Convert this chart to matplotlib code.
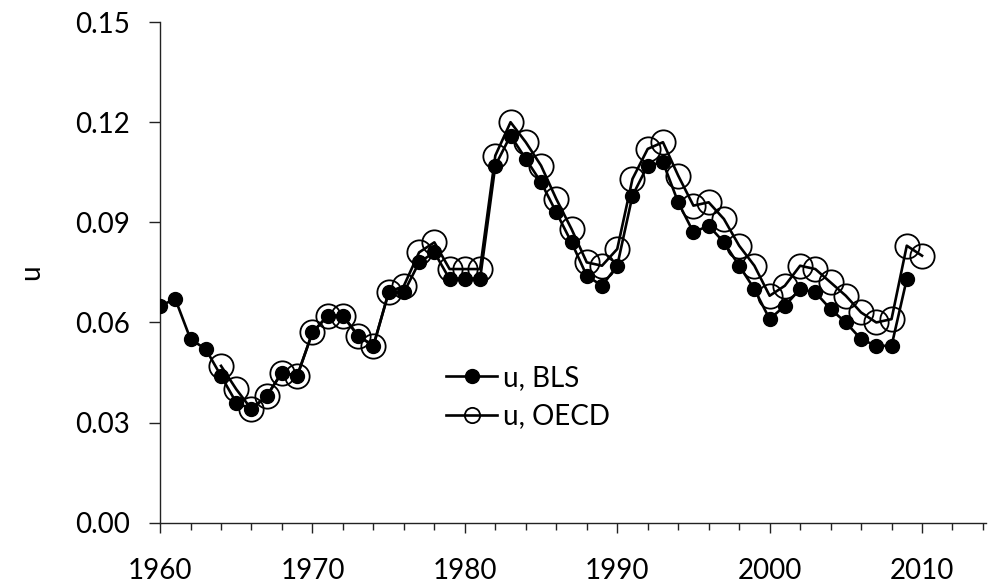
import matplotlib
matplotlib.use("Agg")
import matplotlib.pyplot as plt
from matplotlib.lines import Line2D
import numpy as np

plt.rcParams['font.family'] = ['Lato', 'DejaVu Sans']

# unemployment rate, BLS (1960-2009)
bls_years = list(range(1960, 2010))
bls_u = [0.065, 0.067, 0.055, 0.052, 0.044, 0.036, 0.034, 0.038, 0.045, 0.044,
         0.057, 0.062, 0.062, 0.056, 0.053, 0.069, 0.069, 0.078, 0.081, 0.073,
         0.073, 0.073, 0.107, 0.116, 0.109, 0.102, 0.093, 0.084, 0.074, 0.071,
         0.077, 0.098, 0.107, 0.108, 0.096, 0.087, 0.089, 0.084, 0.077, 0.070,
         0.061, 0.065, 0.070, 0.069, 0.064, 0.060, 0.055, 0.053, 0.053, 0.073]

# unemployment rate, OECD (1964-2010)
oecd_years = list(range(1964, 2011))
oecd_u = [0.047, 0.040, 0.034, 0.038, 0.045, 0.044,
          0.057, 0.062, 0.062, 0.056, 0.053, 0.069, 0.071, 0.081, 0.084, 0.076,
          0.076, 0.076, 0.110, 0.120, 0.114, 0.107, 0.097, 0.088, 0.078, 0.077,
          0.082, 0.103, 0.112, 0.114, 0.104, 0.095, 0.096, 0.091, 0.083, 0.077,
          0.068, 0.071, 0.077, 0.076, 0.072, 0.068, 0.063, 0.060, 0.061, 0.083,
          0.080]

fig = plt.figure(figsize=(9.88, 5.88), dpi=100)
ax = fig.add_axes([0.162, 0.111, 0.836, 0.8515])

ax.plot(oecd_years, oecd_u, color='black', lw=1.9, marker='o', ms=17.5,
        mfc='none', mec='black', mew=1.3, zorder=2)
ax.plot(bls_years, bls_u, color='black', lw=1.9, marker='o', ms=10,
        mfc='black', mec='black', zorder=3)

ax.set_xlim(1960, 2014.2)
ax.set_ylim(0, 0.15)
ax.set_xticks(np.arange(1960, 2011, 10))
ax.set_xticks(np.arange(1960, 2015, 2), minor=True)
ax.set_yticks(np.arange(0, 0.151, 0.03))
ax.set_yticklabels(['%.2f' % v for v in np.arange(0, 0.151, 0.03)])

for s in ['top', 'right']:
    ax.spines[s].set_visible(False)
for s in ['left', 'bottom']:
    ax.spines[s].set_linewidth(1.0)
    ax.spines[s].set_color('#222222')

ax.tick_params(axis='x', which='major', length=7.5, width=1, color='#222222',
               labelsize=20, pad=18)
ax.tick_params(axis='x', which='minor', length=5, width=1, color='#222222')
ax.tick_params(axis='y', which='major', length=8, width=1, color='#222222',
               labelsize=20, pad=14)

ax.set_ylabel('u', fontsize=20, labelpad=22)

handles = [Line2D([], [], color='black', lw=1.9, marker='o', ms=10,
                  mfc='black', mec='black'),
           Line2D([], [], color='black', lw=1.9, marker='o', ms=11,
                  mfc='none', mec='black', mew=1.3)]
ax.legend(handles, ['u, BLS', 'u, OECD'], loc='center left',
          bbox_to_anchor=(0.346, 0.251), frameon=False, fontsize=20,
          handlelength=1.85, handletextpad=0.2, labelspacing=0.45,
          borderpad=0, borderaxespad=0)

fig.savefig('out.png', dpi=100)
